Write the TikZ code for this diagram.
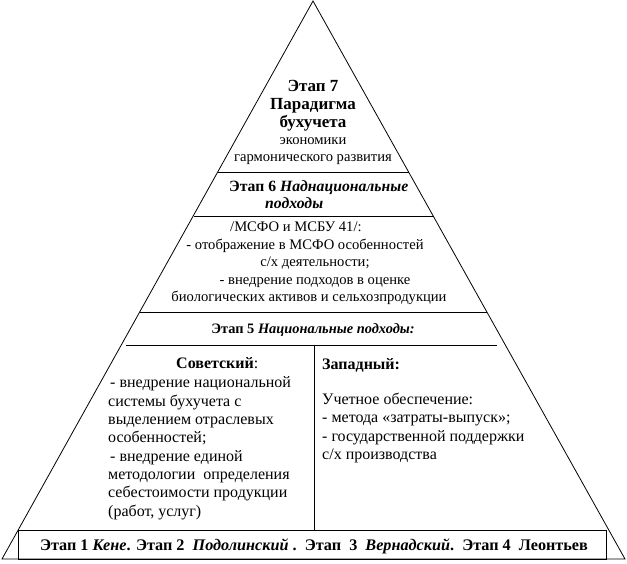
\documentclass[tikz,border=0pt]{standalone}
\usepackage{fontspec}
\setmainfont{Liberation Serif}
\begin{document}
\begin{tikzpicture}[x=1pt,y=-1pt,
  every node/.style={inner sep=0pt},
  fbig/.style={font=\fontsize{17}{19}\selectfont\bfseries},
  fsmall/.style={font=\fontsize{14.6}{17}\selectfont},
  fsix/.style={font=\fontsize{15.7}{18}\selectfont\bfseries},
  ffive/.style={font=\fontsize{14.4}{17}\selectfont\bfseries},
  fcol/.style={font=\fontsize{16}{18}\selectfont},
  fbot/.style={font=\fontsize{16.2}{18}\selectfont\bfseries},
  txt/.style={anchor=mid},
  ltxt/.style={anchor=mid west},
  ln/.style={line width=0.8pt}]
\useasboundingbox (0,0) rectangle (627,563);
% pyramid outline
\draw[ln] (313,1) -- (625,559) -- (2,559) -- cycle;
% horizontal dividers
\draw[ln] (218,172) -- (409,172);
\draw[ln] (194,216) -- (433,216);
\draw[ln] (140,312) -- (487,312);
\draw[ln] (126,345) -- (497,345);
\draw[ln] (314,345) -- (314,530);
\draw[ln] (18,530) rectangle (606,559);
% stage 7
\node[txt,fbig] (s7a) at (313,89) {Этап 7};
\node[txt,fbig] (s7b) at (313,107) {Парадигма};
\node[txt,fbig] (s7c) at (313,125) {бухучета};
\node[txt,fsmall] (s7d) at (313,142) {экономики};
\node[txt,fsmall] (s7e) at (313,159) {гармонического развития};
% stage 6
\node[ltxt,fsix] (s6a) at (229,189) {Этап 6 \textit{Наднациональные}};
\node[ltxt,fsix] (s6b) at (265,206) {\textit{подходы}};
\node[ltxt,fsmall] (m1) at (230,229) {/МСФО и МСБУ 41/:};
\node[txt,fsmall] (m2) at (305,247) {- отображение в МСФО особенностей};
\node[txt,fsmall] (m3) at (315,264) {с/х деятельности;};
\node[txt,fsmall] (m4) at (315,282) {- внедрение подходов в оценке};
\node[txt,fsmall] (m5) at (309,299) {биологических активов и сельхозпродукции};
% stage 5
\node[txt,ffive] (s5) at (313,331) {Этап 5 \textit{Национальные подходы:}};
% soviet
\node[ltxt,fcol] (sv0) at (176,366) {\textbf{Советский}:};
\node[ltxt,fcol] (sv1) at (106,385) {\ - внедрение национальной};
\node[ltxt,fcol] (sv2) at (108,404) {системы бухучета с};
\node[ltxt,fcol] (sv3) at (108,422) {выделением отраслевых};
\node[ltxt,fcol] (sv4) at (108,440) {особенностей;};
\node[ltxt,fcol] (sv5) at (106,459) {\ - внедрение единой};
\node[ltxt,fcol] (sv6) at (108,477) {методологии\ \ определения};
\node[ltxt,fcol] (sv7) at (108,495) {себестоимости продукции};
\node[ltxt,fcol] (sv8) at (108,514) {(работ, услуг)};
% western
\node[ltxt,fcol] (w0) at (322,367) {\textbf{Западный:}};
\node[ltxt,fcol] (w1) at (322,402) {Учетное обеспечение:};
\node[ltxt,fcol] (w2) at (322,420) {- метода «затраты-выпуск»;};
\node[ltxt,fcol] (w3) at (322,439) {- государственной поддержки};
\node[ltxt,fcol] (w4) at (322,457) {с/х производства};
% bottom
\node[txt,fbot] (b) at (314,548) {Этап 1 \textit{Кене}. Этап 2\ \ \textit{Подолинский} .\ \ Этап\ \ 3\ \ \textit{Вернадский}.\ \ Этап 4\ \ Леонтьев};
\end{tikzpicture}
\end{document}
